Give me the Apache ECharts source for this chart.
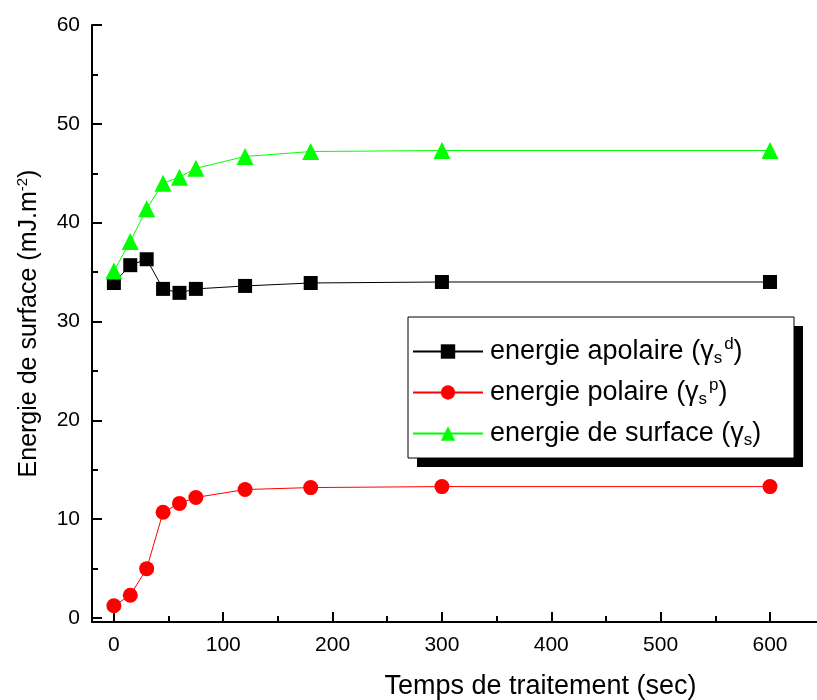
<!DOCTYPE html>
<html><head><meta charset="utf-8">
<script src="https://cdn.jsdelivr.net/npm/echarts@6/dist/echarts.min.js"></script>
<style>html,body{margin:0;padding:0;background:#fff}#c{width:817px;height:700px}</style>
</head><body><div id="c"></div>
<script>
const times = [0, 15, 30, 45, 60, 75, 120, 180, 300, 600];
const apolaire = [33.9, 35.7, 36.3, 33.3, 32.9, 33.3, 33.6, 33.9, 34.0, 34.0];
const polaire = [1.25, 2.3, 5.0, 10.7, 11.6, 12.2, 13.0, 13.2, 13.3, 13.3];
const surface = [35.1, 38.1, 41.4, 44.0, 44.6, 45.5, 46.7, 47.2, 47.3, 47.3];
const xTicks = [0, 100, 200, 300, 400, 500, 600];
const xMinor = [50, 150, 250, 350, 450, 550];
const yTicks = [0, 10, 20, 30, 40, 50, 60];
const yMinor = [5, 15, 25, 35, 45, 55];
const seriesNames = ['apolaire', 'polaire', 'surface'];

const font = 'Liberation Sans, Arial, sans-serif';
const pairs = a => times.map((t, i) => [t, a[i]]);
const chart = echarts.init(document.getElementById('c'));
const baseX = {type: 'value', min: -20, max: 643, gridIndex: 0, splitLine: {show: false}};
const baseY = {type: 'value', min: -0.4, max: 60, gridIndex: 0, splitLine: {show: false}};
const legendFormatter = function (n) {
  if (n === 'apolaire') return 'energie apolaire (γ{sub|s}{sup|d})';
  if (n === 'polaire') return 'energie polaire (γ{sub|s}{sup|p})';
  return 'energie de surface (γ{sub|s})';
};
const legendText = function (c) {
  return {
    color: c, fontFamily: font, fontSize: 27, width: 304, lineHeight: 30, padding: [0, 0, 0, 2],
    rich: {
      sub: {fontSize: 17, fontFamily: font, color: c, lineHeight: 30, padding: [14, 0, 0, 0]},
      sup: {fontSize: 17, fontFamily: font, color: c, lineHeight: 30, padding: [0, 0, 14, 2]}
    }
  };
};
const legendBase = {
  orient: 'vertical', left: 408, top: 317,
  padding: [19, 0, 9, 4],
  itemGap: 10,
  itemWidth: 70, itemHeight: 18,
  data: seriesNames,
  formatter: legendFormatter
};
chart.setOption({
  animation: false,
  backgroundColor: '#fff',
  grid: {left: 92, top: 25, right: 0, bottom: 78, outerBoundsMode: 'none', containLabel: false},
  xAxis: [
    Object.assign({}, baseX, {
      axisLine: {onZero: false, lineStyle: {color: '#000', width: 2}},
      axisTick: {inside: true, length: 10, lineStyle: {color: '#000', width: 2}, customValues: xTicks},
      axisLabel: {customValues: xTicks, color: '#000', fontFamily: font, fontSize: 21, margin: 13},
      name: 'Temps de traitement (sec)', nameLocation: 'middle', nameGap: 51,
      nameTextStyle: {color: '#000', fontFamily: font, fontSize: 27, padding: [0, 0, 0, 172]}
    }),
    Object.assign({}, baseX, {
      position: 'bottom',
      axisLine: {show: false, onZero: false},
      axisTick: {inside: true, length: 6, lineStyle: {color: '#000', width: 2}, customValues: xMinor},
      axisLabel: {show: false}
    })
  ],
  yAxis: [
    Object.assign({}, baseY, {
      axisLine: {show: true, onZero: false, lineStyle: {color: '#000', width: 2}},
      axisTick: {show: true, inside: true, length: 10, lineStyle: {color: '#000', width: 2}, customValues: yTicks},
      axisLabel: {customValues: yTicks, color: '#000', fontFamily: font, fontSize: 21, margin: 12, padding: [3, 0, 0, 0]},
      name: 'Energie de surface (mJ.m{sup|-2})', nameLocation: 'middle', nameGap: 48,
      nameTextStyle: {color: '#000', fontFamily: font, fontSize: 25,
        rich: {sup: {fontSize: 15, fontFamily: font, color: '#000', padding: [0, 0, 14, 0]}}}
    }),
    Object.assign({}, baseY, {
      position: 'left',
      axisLine: {show: false, onZero: false},
      axisTick: {show: true, inside: true, length: 6, lineStyle: {color: '#000', width: 2}, customValues: yMinor},
      axisLabel: {show: false}
    })
  ],
  legend: [
    Object.assign({}, legendBase, {
      backgroundColor: '#fff', borderWidth: 0,
      shadowColor: '#000', shadowBlur: 0, shadowOffsetX: 9, shadowOffsetY: 9,
      textStyle: legendText('#000')
    }),
    Object.assign({}, legendBase, {
      backgroundColor: 'transparent', borderColor: '#000', borderWidth: 1,
      itemStyle: {opacity: 0}, lineStyle: {opacity: 0},
      textStyle: legendText('rgba(0,0,0,0)')
    })
  ],
  series: [
    {name: 'apolaire', type: 'line', data: pairs(apolaire), symbol: 'rect', symbolSize: 14,
     itemStyle: {color: '#000'}, lineStyle: {color: '#000', width: 1}},
    {name: 'polaire', type: 'line', data: pairs(polaire), symbol: 'circle', symbolSize: 15,
     itemStyle: {color: '#ff0000'}, lineStyle: {color: '#ff0000', width: 1}},
    {name: 'surface', type: 'line', data: pairs(surface), symbol: 'triangle', symbolSize: 17,
     itemStyle: {color: '#00ff00'}, lineStyle: {color: '#00ff00', width: 1}}
  ]
});
</script></body></html>
